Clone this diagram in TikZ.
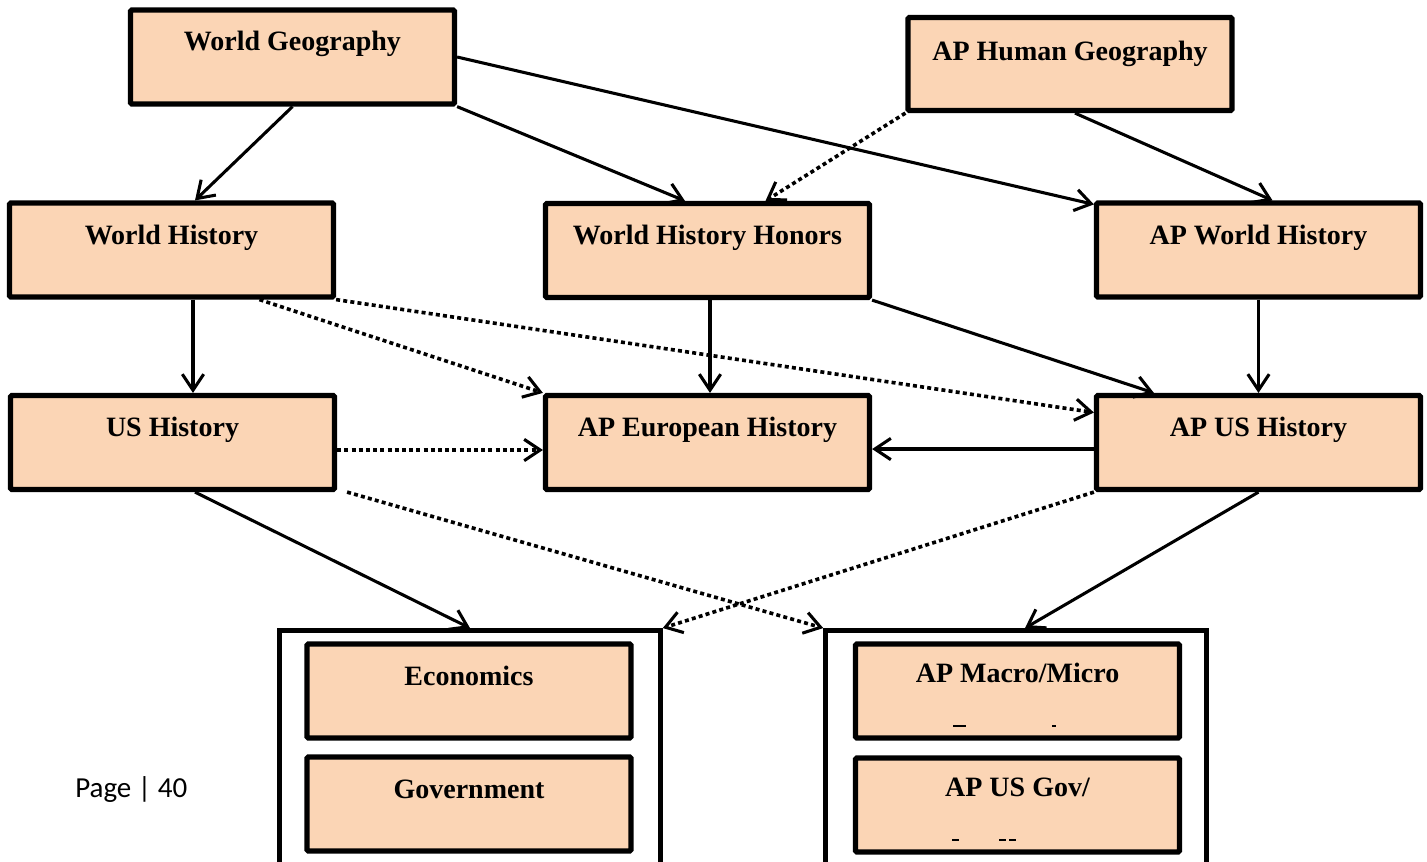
\documentclass[tikz,border=0pt]{standalone}
\usepackage{fontspec}
\setmainfont{Liberation Serif}
\newfontfamily\pagefont{Carlito}
\usetikzlibrary{arrows.meta,calc}
\definecolor{peach}{RGB}{251,213,181}
\tikzset{
  box/.style={draw=black, fill=peach, line width=3.9pt, rounded corners=1pt, minimum width=243pt, minimum height=70.5pt, inner sep=0pt},
  outerbox/.style={draw=black, line width=3.4pt, minimum width=285.75pt, minimum height=202pt, inner sep=0pt},
  lbl/.style={anchor=base, font=\fontsize{21}{25}\selectfont\bfseries, inner sep=0pt},
  conn/.style={line width=2.3pt, -{Straight Barb[length=12pt,width=16pt,line width=2.3pt]}},
  dot/.style={conn, line width=2.7pt, dash pattern=on 3pt off 2.4pt},
  frag/.style={line width=1.5pt}
}
\begin{document}
\begin{tikzpicture}[x=0.75pt,y=-0.75pt]
\useasboundingbox (0,0) rectangle (1427,861);
\clip (0,0) rectangle (1427,861);
\fill[white] (0,0) rectangle (1427,861);
% outer containers
\node[outerbox] (outl) at (470,765) {};
\node[outerbox] (outr) at (1016,765) {};
% boxes
\node[box] (wg) at (292.5,57) {};
\node[box, minimum height=69.75pt] (aphg) at (1070,64) {};
\node[box] (wh) at (171.5,250) {};
\node[box] (whh) at (707.5,250.5) {};
\node[box] (awh) at (1258.5,250) {};
\node[box] (ush) at (172.5,442.5) {};
\node[box] (apeh) at (707.5,442.5) {};
\node[box] (apush) at (1258.5,442.5) {};
\node[box] (econ) at (469,691) {};
\node[box] (gov) at (469,804) {};
\node[box] (macro) at (1017.5,691) {};
\node[box] (usgov) at (1017.5,805) {};
% labels
\node[lbl] at ($(wg.center)+(0,-7)$) {World Geography};
\node[lbl] at ($(aphg.center)+(0,-4)$) {AP Human Geography};
\node[lbl] at ($(wh.center)+(0,-6)$) {World History};
\node[lbl] at ($(whh.center)+(0,-6)$) {World History Honors};
\node[lbl] at ($(awh.center)+(0,-6)$) {AP World History};
\node[lbl] at ($(ush.center)+(0,-6)$) {US History};
\node[lbl] at ($(apeh.center)+(0,-6)$) {AP European History};
\node[lbl] at ($(apush.center)+(0,-6)$) {AP US History};
\node[lbl] at ($(econ.center)+(0,-6)$) {Economics};
\node[lbl] at ($(gov.center)+(0,-6)$) {Government};
\node[lbl] at ($(macro.center)+(0,-9)$) {AP Macro/Micro};
\node[lbl] at ($(usgov.center)+(0,-9)$) {AP US Gov/};
% fragments
\draw[frag] (953,726) -- (966,726);
\draw[frag] (1052,726) -- (1056,726);
\draw[frag] (952,840) -- (959,840);
\draw[frag] (999,840) -- (1006,840);
\draw[frag] (1009,840) -- (1016,840);
% page number
\node[anchor=base west, inner sep=0pt, font=\pagefont\fontsize{21.75}{26}\selectfont] (pg) at (75,797) {Page | 40};
% connectors
\draw[conn] (wg.south) -- ($(wh.north)+(23.5,0)$);
\draw[conn] (wg.south east) -- ($(whh.north)+(-22.5,0)$);
\draw[conn] (wg.east) -- ($(awh.north west)+(0,4)$);
\draw[dot] (aphg.south west) -- ($(whh.north)+(58,0)$);
\draw[conn] ($(aphg.south)+(5,0)$) -- ($(awh.north)+(14,0)$);
\draw[conn] ($(wh.south)+(21.5,0)$) -- ($(ush.north)+(20.5,0)$);
\draw[dot] ($(wh.south)+(88,0)$) -- (apeh.north west);
\draw[dot] (wh.south east) -- ($(apush.west)+(0,-30)$);
\draw[conn] ($(whh.south)+(2.5,0)$) -- ($(apeh.north)+(2.5,0)$);
\draw[conn] (whh.south east) -- ($(apush.north west)+(60,0)$);
\draw[conn] (awh.south) -- (apush.north);
\draw[dot] ($(ush.east)+(0,7.5)$) -- ($(apeh.west)+(0,7.5)$);
\draw[conn] ($(apush.west)+(0,6.5)$) -- ($(apeh.east)+(0,6.5)$);
\draw[conn] ($(ush.south)+(22.5,0)$) -- (outl.north);
\draw[dot] ($(ush.south east)+(10,0)$) -- (outr.north west);
\draw[dot] (apush.south west) -- (outl.north east);
\draw[conn] (apush.south) -- ($(outr.north)+(9,0)$);
\end{tikzpicture}
\end{document}
